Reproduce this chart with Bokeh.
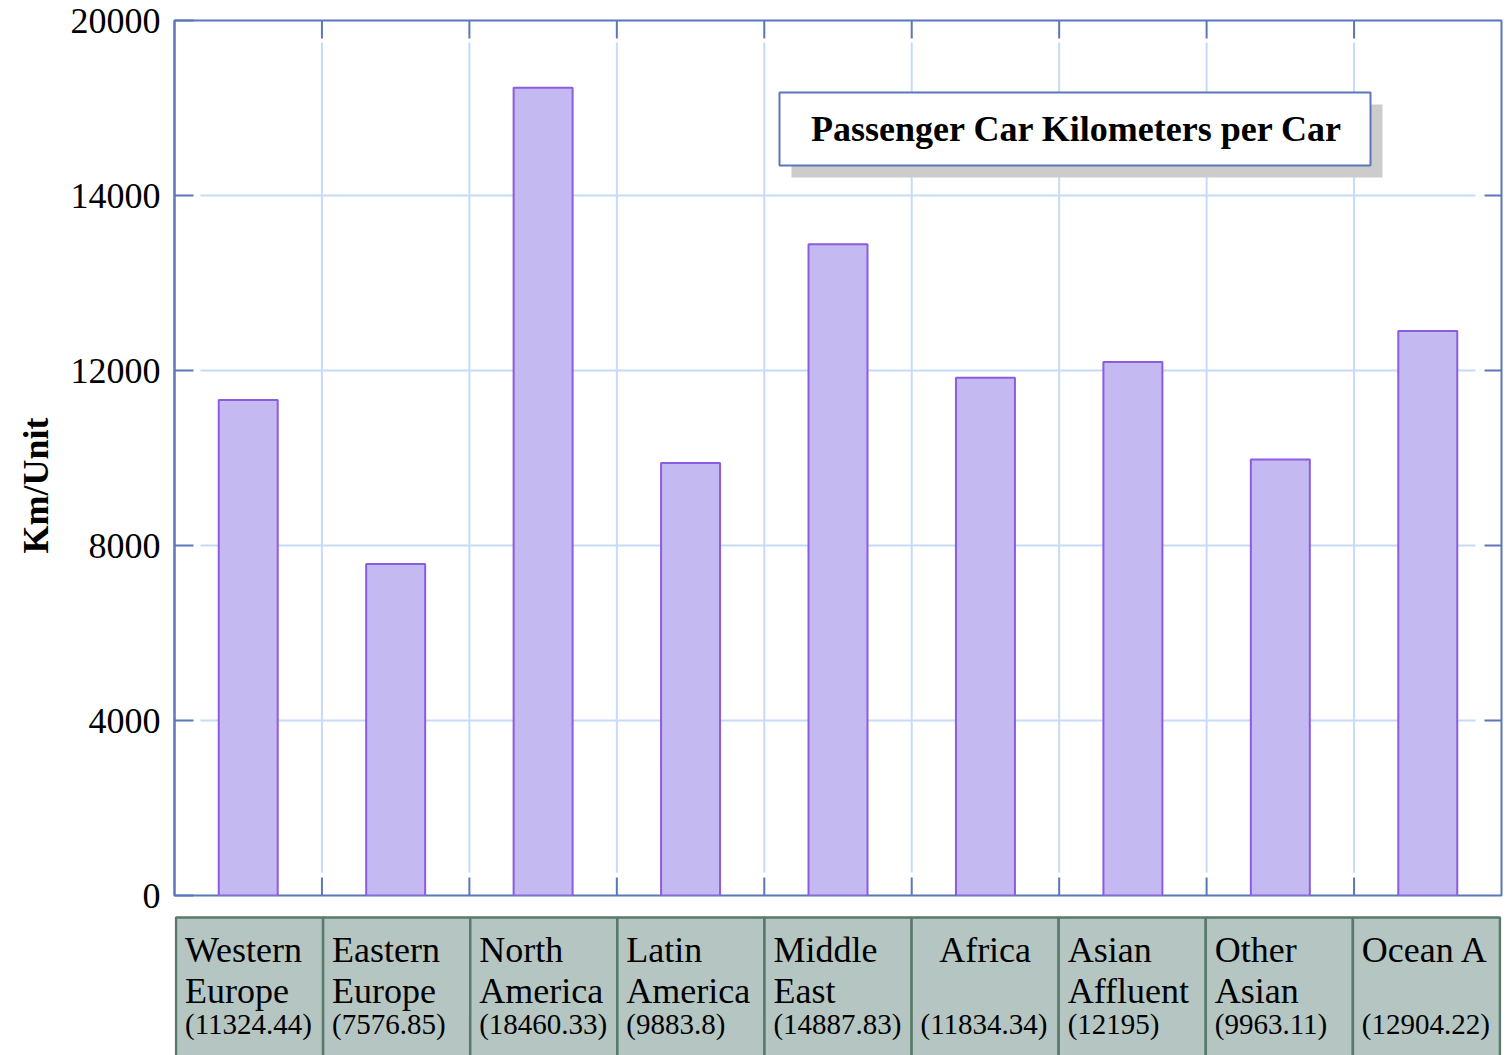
from bokeh.plotting import figure
from bokeh.models import Range1d, FixedTicker, LinearAxis, ColumnDataSource, Title
from bokeh.layouts import column
from bokeh.embed import file_html
from bokeh.resources import INLINE
from bokeh.core.properties import value

# ---------------- data ----------------
categories = ["Western Europe", "Eastern Europe", "North America", "Latin America",
              "Middle East", "Africa", "Asian Affluent", "Other Asian", "Ocean A"]
name_line1 = ["Western", "Eastern", "North", "Latin", "Middle", "Africa", "Asian", "Other", "Ocean A"]
name_line2 = ["Europe", "Europe", "America", "America", "East", "", "Affluent", "Asian", ""]
km_per_car = [11324.44, 7576.85, 18460.33, 9883.8, 14887.83, 11834.34, 12195, 9963.11, 12904.22]
y_tick_values = [0, 4000, 8000, 12000, 16000, 20000]
y_tick_labels = ["0", "4000", "8000", "12000", "14000", "20000"]
title_text = "Passenger Car Kilometers per Car"
y_label = "Km/Unit"

# ---------------- style ----------------
FONT = "Liberation Serif"
BLUE = "#5b77b9"
GRID = "#c6dbf8"
BAR_FILL = "#c5b9f1"
BAR_LINE = "#8c5ce0"
CELL_FILL = "#b5c5c1"
CELL_LINE = "#587a6a"
SHADOW = "#cccccc"

N = len(categories)
FRAME_W, FRAME_H = 1327, 875
Y_MAX = y_tick_values[-1]
px_x = N / FRAME_W          # x units per pixel
px_y = Y_MAX / FRAME_H      # y units per pixel

p = figure(frame_width=FRAME_W, frame_height=FRAME_H,
           x_range=Range1d(0, N), y_range=Range1d(0, Y_MAX),
           x_axis_type=None, y_axis_type=None,
           min_border_left=174, min_border_right=9, min_border_top=20, min_border_bottom=20,
           output_backend="svg", toolbar_location=None)
p.background_fill_color = "white"
p.border_fill_color = "white"
p.outline_line_color = BLUE
p.outline_line_width = 2

# manual grid lines with gaps near the tick marks
gap_x = 26 * px_x
gap_top = 22 * px_y
gap_bot = 23 * px_y
inner_y = [v for v in y_tick_values if 0 < v < Y_MAX]
xb = list(range(1, N))
p.segment(x0=[gap_x] * len(inner_y), x1=[N - gap_x] * len(inner_y), y0=inner_y, y1=inner_y,
          line_color=GRID, line_width=2)
p.segment(x0=xb, x1=xb, y0=[gap_bot] * len(xb), y1=[Y_MAX - gap_top] * len(xb),
          line_color=GRID, line_width=2)

# tick marks on the right, top and bottom edges of the frame
p.segment(x0=[N - 17 * px_x] * len(inner_y), x1=[N] * len(inner_y), y0=inner_y, y1=inner_y,
          line_color=BLUE, line_width=2)
p.segment(x0=xb, x1=xb, y0=[Y_MAX - 18 * px_y] * len(xb), y1=[Y_MAX] * len(xb),
          line_color=BLUE, line_width=2)
p.segment(x0=xb, x1=xb, y0=[0] * len(xb), y1=[18 * px_y] * len(xb),
          line_color=BLUE, line_width=2)

# bars
src = ColumnDataSource(dict(x=[i + 0.5 for i in range(N)], top=km_per_car))
p.vbar(x="x", top="top", bottom=0, width=0.4, source=src,
       fill_color=BAR_FILL, line_color=BAR_LINE, line_width=2)

# left axis
overrides = {float(v): l for v, l in zip(y_tick_values, y_tick_labels)}
yax = LinearAxis(ticker=FixedTicker(ticks=y_tick_values), major_label_overrides=overrides)
yax.axis_line_color = BLUE
yax.axis_line_width = 2
yax.major_tick_line_color = BLUE
yax.major_tick_line_width = 2
yax.major_tick_in = 19
yax.major_tick_out = 0
yax.minor_tick_line_color = None
yax.major_label_standoff = 14
yax.major_label_text_font = FONT
yax.major_label_text_font_size = "36px"
yax.major_label_text_color = "black"
p.add_layout(yax, "left")

# y axis title (side title, anchored from the bottom of the frame)
ytitle = Title(text=y_label, align="left", offset=342, standoff=24,
               text_font=FONT, text_font_size="36px", text_font_style="bold",
               text_color="black")
p.add_layout(ytitle, "left")

# title box with shadow (upper right of the plot area)
bx0, bx1 = 605 * px_x, 1196 * px_x
by0, by1 = Y_MAX - 145 * px_y, Y_MAX - 72 * px_y
sh = 12
p.quad(left=bx0 + sh * px_x, right=bx1 + sh * px_x, top=by1 - sh * px_y, bottom=by0 - sh * px_y,
       fill_color=SHADOW, line_color=None)
p.quad(left=bx0, right=bx1, top=by1, bottom=by0,
       fill_color="white", line_color=BLUE, line_width=2)
p.text(x=[(bx0 + bx1) / 2 + 2 * px_x], y=[(by0 + by1) / 2], text=[title_text],
       text_font=value(FONT), text_font_size="36px", text_font_style="bold",
       text_align="center", text_baseline="middle", text_color="black")

# ---------------- category table ----------------
PADPX = 1.5
pad_u = PADPX * px_x
TH = 140
t = figure(frame_width=FRAME_W, frame_height=TH,
           x_range=Range1d(-pad_u, N + pad_u), y_range=Range1d(0, TH),
           x_axis_type=None, y_axis_type=None,
           min_border_left=174, min_border_right=9, min_border_top=0, min_border_bottom=0,
           output_backend="svg", toolbar_location=None)
t.outline_line_color = None
t.background_fill_color = "white"
t.border_fill_color = "white"

idx = list(range(N))
t.quad(left=idx, right=[i + 1 for i in idx], top=[TH - 2] * N, bottom=[-20] * N,
       fill_color=CELL_FILL, line_color=CELL_LINE, line_width=2.5)

text_pad = 9 * px_x
centered = {"Africa"}
l1_left = [(i + text_pad, s) for i, s in enumerate(name_line1) if s not in centered]
l1_center = [(i + 0.5, s) for i, s in enumerate(name_line1) if s in centered]
common = dict(text_font=value(FONT), text_color="black", text_baseline="alphabetic")
Y1, Y2, Y3 = 106, 65, 32
t.text(x=[a for a, _ in l1_left], y=[Y1] * len(l1_left), text=[b for _, b in l1_left],
       text_font_size="36px", text_align="left", **common)
t.text(x=[a for a, _ in l1_center], y=[Y1] * len(l1_center), text=[b for _, b in l1_center],
       text_font_size="36px", text_align="center", **common)
t.text(x=[i + text_pad for i in idx], y=[Y2] * N, text=name_line2,
       text_font_size="36px", text_align="left", **common)
t.text(x=[i + text_pad for i in idx], y=[Y3] * N, text=[f"({v})" for v in km_per_car],
       text_font_size="29px", text_align="left", **common)

layout = column(p, t, spacing=0)
open("out.html", "w").write(file_html(layout, INLINE))
